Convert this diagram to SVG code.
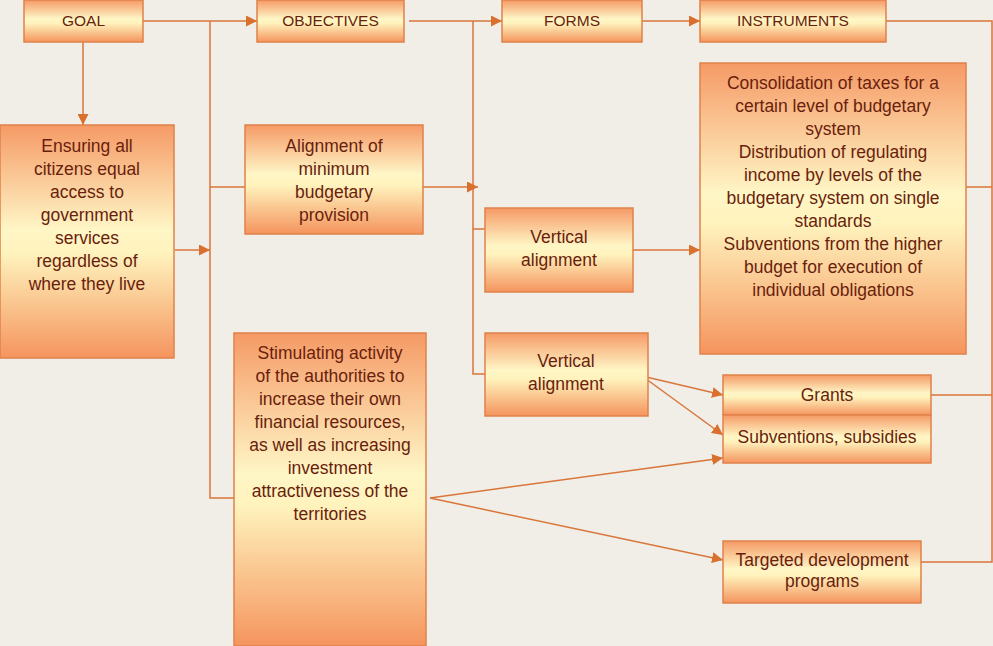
<svg xmlns="http://www.w3.org/2000/svg" width="993" height="646" viewBox="0 0 993 646">
<defs>
<linearGradient id="g" x1="0" y1="0" x2="0" y2="1">
<stop offset="0" stop-color="#f59a66"/>
<stop offset="0.45" stop-color="#fff6c6"/>
<stop offset="0.55" stop-color="#fff3bd"/>
<stop offset="1" stop-color="#f5945e"/>
</linearGradient>
<marker id="ah" viewBox="0 0 10 10" refX="10" refY="5" markerWidth="11" markerHeight="11" markerUnits="userSpaceOnUse" orient="auto">
<path d="M0,0 L10,5 L0,10 Z" fill="#d9702e"/>
</marker>
<style>
.b{fill:url(#g);stroke:#e0824a;stroke-width:1.5}
.t{font-family:"Liberation Sans",Arial,sans-serif;font-size:17.5px;fill:#6a1e0c;text-anchor:middle}
.h{font-size:15.5px}
.c{fill:none;stroke:#d9763a;stroke-width:1.5}
.a{fill:none;stroke:#d9763a;stroke-width:1.5;marker-end:url(#ah)}
</style>
</defs>
<rect width="993" height="646" fill="#f1ede7"/>
<g id="connectors">
<path class="a" d="M143,21 H257"/>
<path class="c" d="M210,21 V498 H234"/>
<path class="c" d="M210,187 H245"/>
<path class="a" d="M175,250 H210"/>
<path class="a" d="M83,42 V125"/>
<path class="a" d="M409,21 H502"/>
<path class="c" d="M473,21 V374 H485"/>
<path class="c" d="M473,229 H485"/>
<path class="a" d="M423,187 H478"/>
<path class="a" d="M642,21 H700"/>
<path class="c" d="M886,21 H992 V562 H921"/>
<path class="c" d="M966,187 H992"/>
<path class="c" d="M931,395 H992"/>
<path class="a" d="M633,250 H700"/>
<path class="a" d="M642,376 L723,395"/>
<path class="a" d="M642,376 L723,435"/>
<path class="a" d="M430,498 L723,458"/>
<path class="a" d="M430,498 L723,560"/>
</g>
<g id="goal"><rect class="b" x="24" y="0" width="119" height="42"/><text class="t h" x="83.5" y="26">GOAL</text></g>
<g id="objectives"><rect class="b" x="257" y="0" width="147" height="42"/><text class="t h" x="330.5" y="26">OBJECTIVES</text></g>
<g id="forms"><rect class="b" x="502" y="0" width="140" height="42"/><text class="t h" x="572" y="26">FORMS</text></g>
<g id="instruments"><rect class="b" x="700" y="0" width="186" height="42"/><text class="t h" x="793" y="26">INSTRUMENTS</text></g>
<g id="ensuring"><rect class="b" x="0" y="125" width="174" height="233"/>
<text class="t" x="87" y="152">Ensuring all<tspan x="87" dy="23">citizens equal</tspan><tspan x="87" dy="23">access to</tspan><tspan x="87" dy="23">government</tspan><tspan x="87" dy="23">services</tspan><tspan x="87" dy="23">regardless of</tspan><tspan x="87" dy="23">where they live</tspan></text></g>
<g id="alignment"><rect class="b" x="245" y="125" width="178" height="109"/>
<text class="t" x="334" y="152">Alignment of<tspan x="334" dy="23">minimum</tspan><tspan x="334" dy="23">budgetary</tspan><tspan x="334" dy="23">provision</tspan></text></g>
<g id="stimulating"><rect class="b" x="234" y="333" width="192" height="313"/>
<text class="t" x="330" y="359">Stimulating activity<tspan x="330" dy="23">of the authorities to</tspan><tspan x="330" dy="23">increase their own</tspan><tspan x="330" dy="23">financial resources,</tspan><tspan x="330" dy="23">as well as increasing</tspan><tspan x="330" dy="23">investment</tspan><tspan x="330" dy="23">attractiveness of the</tspan><tspan x="330" dy="23">territories</tspan></text></g>
<g id="vertical1"><rect class="b" x="485" y="208" width="148" height="84"/>
<text class="t" x="559" y="243">Vertical<tspan x="559" dy="23">alignment</tspan></text></g>
<g id="vertical2"><rect class="b" x="485" y="333" width="163" height="83"/>
<text class="t" x="566" y="367">Vertical<tspan x="566" dy="23">alignment</tspan></text></g>
<g id="consolidation"><rect class="b" x="700" y="63" width="266" height="291"/>
<text class="t" x="833" y="89">Consolidation of taxes for a<tspan x="833" dy="23">certain level of budgetary</tspan><tspan x="833" dy="23">system</tspan><tspan x="833" dy="23">Distribution of regulating</tspan><tspan x="833" dy="23">income by levels of the</tspan><tspan x="833" dy="23">budgetary system on single</tspan><tspan x="833" dy="23">standards</tspan><tspan x="833" dy="23">Subventions from the higher</tspan><tspan x="833" dy="23">budget for execution of</tspan><tspan x="833" dy="23">individual obligations</tspan></text></g>
<g id="grants"><rect class="b" x="723" y="375" width="208" height="40"/><text class="t" x="827" y="401">Grants</text></g>
<g id="subventions"><rect class="b" x="723" y="415" width="208" height="48"/><text class="t" x="827" y="443">Subventions, subsidies</text></g>
<g id="targeted"><rect class="b" x="723" y="541" width="198" height="62"/>
<text class="t" x="822" y="566">Targeted development<tspan x="822" dy="21">programs</tspan></text></g>
</svg>
